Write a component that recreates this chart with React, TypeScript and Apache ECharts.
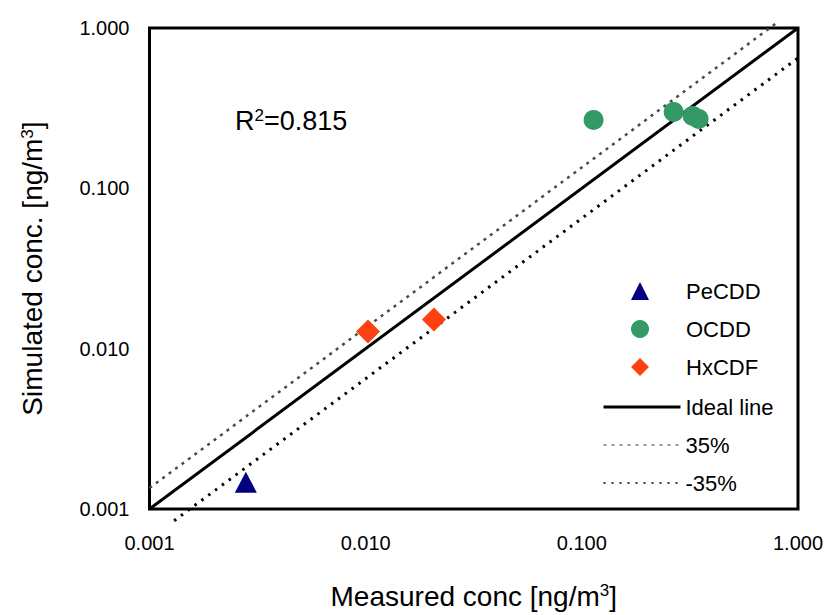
import React, { useEffect, useRef } from "react";
import * as echarts from "echarts";

const FONT = "'Liberation Sans', Arial, Helvetica, sans-serif";

// Measured (x) / simulated (y) concentrations [ng/m3]
const peCDD: number[][] = [[0.00279, 0.00147]];
const oCDD: number[][] = [
  [0.1133, 0.267],
  [0.266, 0.2997],
  [0.3257, 0.283],
  [0.347, 0.271],
];
const hxCDF: number[][] = [
  [0.01025, 0.0128],
  [0.0207, 0.0152],
];

// Reference lines
const idealLine: number[][] = [[0.001, 0.001], [1, 1]];
const upperLine: number[][] = [[0.001, 0.00135], [0.8, 1.08]];
const lowerLine: number[][] = [[0.0013, 0.000845], [1, 0.65]];

const axisMin = 0.001;
const axisMax = 1;
const r2Text = "0.815";

export default function App() {
  const ref = useRef<HTMLDivElement>(null);
  useEffect(() => {
    if (!ref.current) return;
    const chart = echarts.init(ref.current, undefined, { renderer: "svg" });
    const labelStyle = { color: "#000", fontSize: 20, fontFamily: FONT };
    const nameRich = {
      sup: { fontSize: 17, fontFamily: FONT, color: "#000", verticalAlign: "top" as const, lineHeight: 14 },
    };
    const hidden = { opacity: 0 };
    chart.setOption({
      animation: false,
      backgroundColor: "#fff",
      grid: {
        left: 149.5,
        right: 33,
        top: 28,
        bottom: 105,
        show: true,
        borderColor: "#000",
        borderWidth: 3,
        backgroundColor: "transparent",
      },
      xAxis: {
        type: "log",
        logBase: 10,
        min: axisMin,
        max: axisMax,
        name: "Measured conc [ng/m{sup|3}]",
        nameLocation: "middle",
        nameGap: 73,
        nameTextStyle: { fontSize: 28, fontFamily: FONT, color: "#000", rich: nameRich },
        axisLine: { show: false },
        axisTick: { show: false },
        splitLine: { show: false },
        axisLabel: { ...labelStyle, margin: 24, formatter: (v: number) => v.toFixed(3) },
      },
      yAxis: {
        type: "log",
        logBase: 10,
        min: axisMin,
        max: axisMax,
        name: "Simulated conc. [ng/m{sup|3}]",
        nameLocation: "middle",
        nameRotate: 90,
        nameGap: 103,
        nameTextStyle: { fontSize: 28, fontFamily: FONT, color: "#000", rich: nameRich },
        axisLine: { show: false },
        axisTick: { show: false },
        splitLine: { show: false },
        axisLabel: { ...labelStyle, margin: 20, formatter: (v: number) => v.toFixed(3) },
      },
      legend: [
        {
          orient: "vertical",
          left: 631,
          top: 280,
          padding: 0,
          itemWidth: 18,
          itemHeight: 18,
          itemGap: 16,
          textStyle: { fontSize: 22, fontFamily: FONT, color: "#000", padding: [0, 0, 0, 32] },
          data: [
            { name: "PeCDD", icon: "triangle" },
            { name: "OCDD", icon: "circle", itemStyle: { color: "#339966" } },
            { name: "HxCDF", icon: "diamond" },
          ],
        },
        {
          orient: "vertical",
          left: 602,
          top: 396,
          padding: 0,
          itemWidth: 77,
          itemHeight: 17,
          itemGap: 16,
          textStyle: { fontSize: 22, fontFamily: FONT, color: "#000" },
          data: [
            { name: "Ideal line", itemStyle: hidden, lineStyle: { width: 3, color: "#000" } },
            { name: "35%", itemStyle: hidden, lineStyle: { width: 1.2, color: "#333", type: [3, 5] } },
            { name: "-35%", itemStyle: hidden, lineStyle: { width: 1.6, color: "#000", type: [2, 6] } },
          ],
        },
      ],
      graphic: [
        {
          type: "text",
          left: 235,
          top: 107,
          style: {
            text: "R{sup|2}=" + r2Text,
            fontSize: 27,
            fontFamily: FONT,
            fill: "#000",
            rich: {
              sup: { fontSize: 17, fontFamily: FONT, fill: "#000", verticalAlign: "top", lineHeight: 14 },
            },
          },
        },
      ],
      series: [
        {
          name: "Ideal line",
          type: "line",
          data: idealLine,
          symbol: "none",
          itemStyle: { color: "#000" },
          lineStyle: { color: "#000", width: 3 },
          z: 2,
        },
        {
          name: "35%",
          type: "line",
          data: upperLine,
          symbol: "none",
          clip: false,
          itemStyle: { color: "#4a4a4a" },
          lineStyle: { color: "#4a4a4a", width: 2.5, type: [3, 5] },
          z: 2,
        },
        {
          name: "-35%",
          type: "line",
          data: lowerLine,
          symbol: "none",
          clip: false,
          itemStyle: { color: "#000" },
          lineStyle: { color: "#000", width: 3, type: [2.5, 6] },
          z: 2,
        },
        {
          name: "PeCDD",
          type: "scatter",
          data: peCDD,
          symbol: "triangle",
          symbolSize: [22, 21],
          itemStyle: { color: "#000080", opacity: 1 },
          z: 3,
        },
        {
          name: "OCDD",
          type: "scatter",
          data: oCDD,
          symbol: "circle",
          symbolSize: 20,
          itemStyle: { color: "#339966", opacity: 1 },
          z: 3,
        },
        {
          name: "HxCDF",
          type: "scatter",
          data: hxCDF,
          symbol: "diamond",
          symbolSize: 24,
          itemStyle: { color: "#ff4010", opacity: 1 },
          z: 3,
        },
      ],
    });
    return () => chart.dispose();
  }, []);
  return (
    <div
      ref={ref}
      style={{ position: "absolute", left: 0, top: 0, width: 831, height: 615 }}
    />
  );
}
